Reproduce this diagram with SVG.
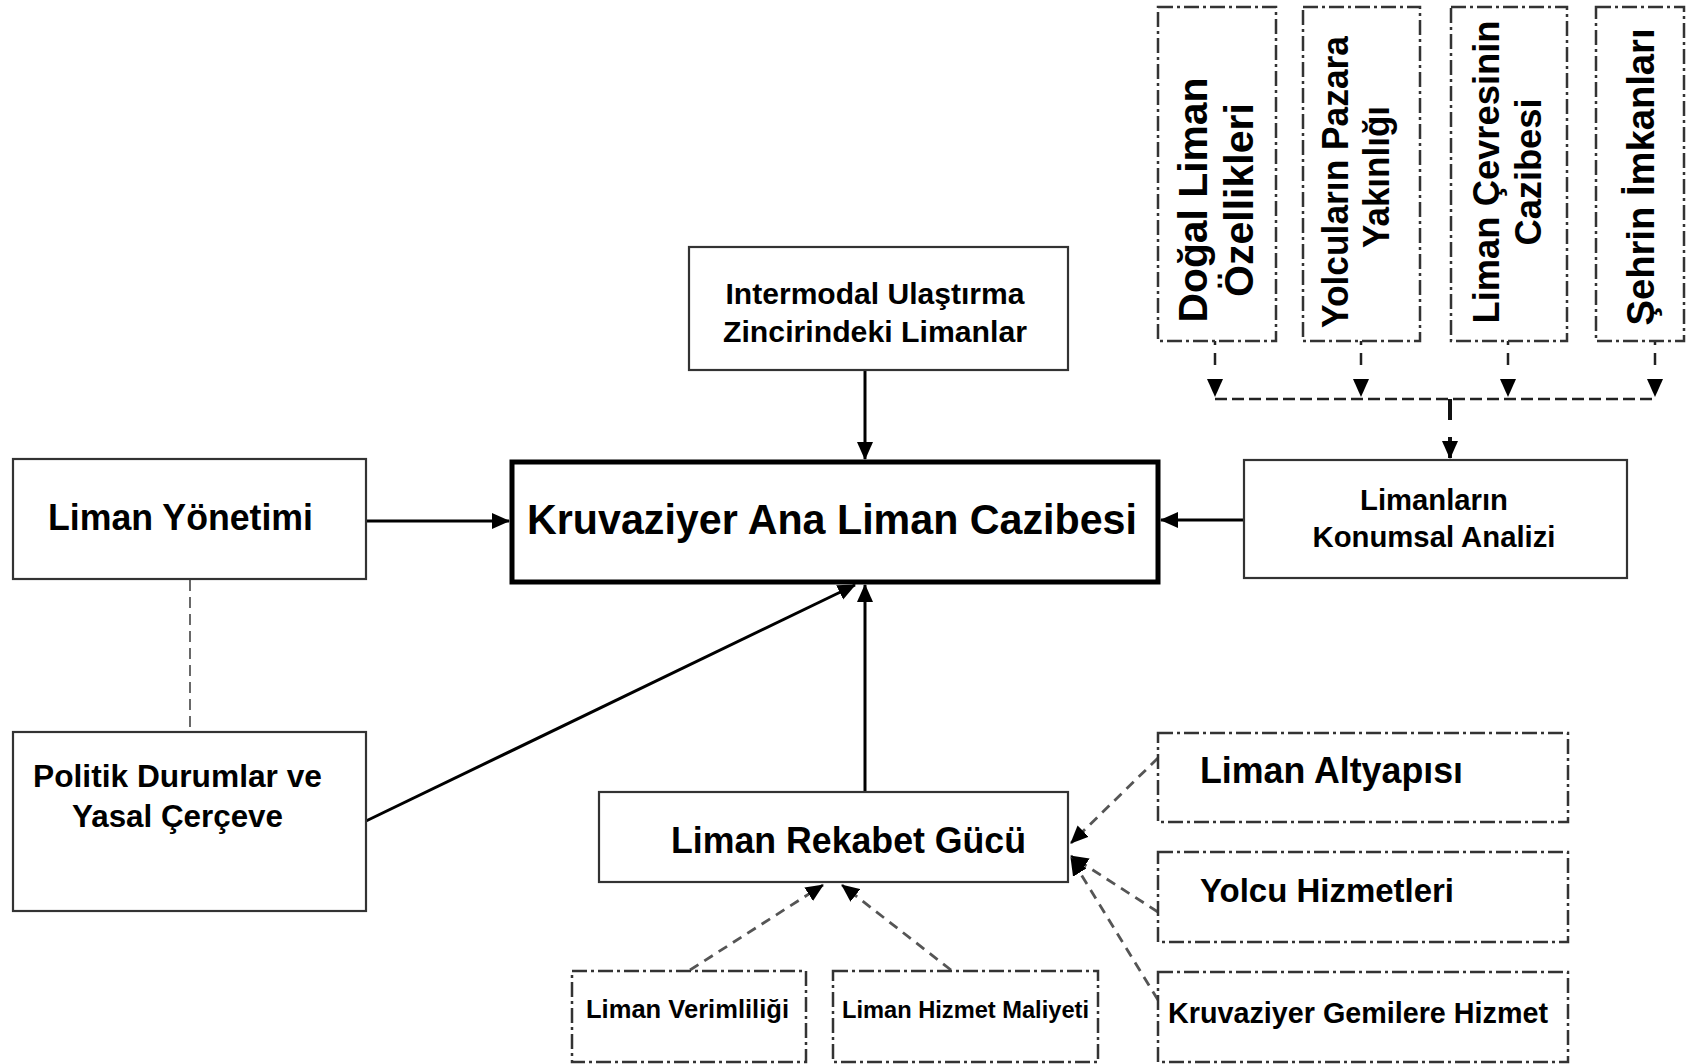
<svg xmlns="http://www.w3.org/2000/svg" width="1687" height="1064" viewBox="0 0 1687 1064">
<style>
.box{fill:#fff;stroke:#333;stroke-width:2.2}
.main{fill:#fff;stroke:#000;stroke-width:5}
.dd{fill:#fff;stroke:#333;stroke-width:2.5;stroke-dasharray:15 4 3 4}
.t{font-family:"Liberation Sans",Arial,Helvetica,sans-serif;font-weight:bold;fill:#000}
.sol{stroke:#000;stroke-width:3;fill:none}
.dsh{stroke:#555;stroke-width:2.8;fill:none;stroke-dasharray:10 7}
.top{stroke:#222;stroke-width:2.5;fill:none}
</style>
<defs>
<marker id="ah" viewBox="0 0 18 16" refX="17" refY="8" markerWidth="18" markerHeight="16" markerUnits="userSpaceOnUse" orient="auto">
<path d="M0,0 L18,8 L0,16 Z" fill="#000"/>
</marker>
<marker id="ahs" viewBox="0 0 18 16" refX="17" refY="8" markerWidth="18" markerHeight="17" markerUnits="userSpaceOnUse" orient="auto">
<path d="M0,0 L18,8 L0,16 Z" fill="#000"/>
</marker>
</defs>
<rect width="1687" height="1064" fill="#fff"/>

<g id="connectors">
<line class="sol" x1="865" y1="370" x2="865" y2="459" marker-end="url(#ah)"/>
<line class="sol" x1="366" y1="521" x2="509" y2="521" marker-end="url(#ah)"/>
<line class="sol" x1="1244" y1="520" x2="1161" y2="520" marker-end="url(#ah)"/>
<line class="sol" x1="865" y1="792" x2="865" y2="585" marker-end="url(#ah)"/>
<line class="sol" x1="366" y1="821" x2="855" y2="585" marker-end="url(#ahs)"/>
<line x1="190" y1="580" x2="190" y2="732" stroke="#444" stroke-width="1.6" stroke-dasharray="11 6"/>
<line class="dsh" x1="690" y1="970" x2="823" y2="885" marker-end="url(#ahs)"/>
<line class="dsh" x1="951" y1="970" x2="842" y2="885" marker-end="url(#ahs)"/>
<line class="dsh" x1="1158" y1="758" x2="1071" y2="843" marker-end="url(#ahs)"/>
<line class="dsh" x1="1158" y1="912" x2="1071" y2="856" marker-end="url(#ahs)"/>
<line class="dsh" x1="1158" y1="1000" x2="1071" y2="858" marker-end="url(#ahs)"/>
<g class="top" stroke-dasharray="4 8 12 100">
<line x1="1215" y1="341" x2="1215" y2="396" marker-end="url(#ah)"/>
<line x1="1361" y1="341" x2="1361" y2="396" marker-end="url(#ah)"/>
<line x1="1508" y1="341" x2="1508" y2="396" marker-end="url(#ah)"/>
<line x1="1655" y1="341" x2="1655" y2="396" marker-end="url(#ah)"/>
</g>
<line x1="1215" y1="399" x2="1655" y2="399" stroke="#222" stroke-width="2.5" stroke-dasharray="12 5"/>
<line x1="1450" y1="399" x2="1450" y2="458" stroke="#111" stroke-width="4" stroke-dasharray="21 17 100" marker-end="url(#ah)"/>
</g>

<g id="n-intermodal">
<rect class="box" x="689" y="247" width="379" height="123"/>
<text class="t" x="875" y="304" font-size="29" text-anchor="middle" textLength="299" lengthAdjust="spacingAndGlyphs">Intermodal Ulaştırma</text>
<text class="t" x="875" y="342" font-size="29" text-anchor="middle" textLength="304" lengthAdjust="spacingAndGlyphs">Zincirindeki Limanlar</text>
</g>

<g id="n-main">
<rect class="main" x="512" y="462" width="646" height="120"/>
<text class="t" x="832" y="534" font-size="43" text-anchor="middle" textLength="610" lengthAdjust="spacingAndGlyphs">Kruvaziyer Ana Liman Cazibesi</text>
</g>

<g id="n-yonetim">
<rect class="box" x="13" y="459" width="353" height="120"/>
<text class="t" x="48" y="530" font-size="36" textLength="265" lengthAdjust="spacingAndGlyphs">Liman Yönetimi</text>
</g>

<g id="n-politik">
<rect class="box" x="13" y="732" width="353" height="179"/>
<text class="t" x="33" y="787" font-size="31" textLength="289" lengthAdjust="spacingAndGlyphs">Politik Durumlar ve</text>
<text class="t" x="72" y="827" font-size="31" textLength="211" lengthAdjust="spacingAndGlyphs">Yasal Çerçeve</text>
</g>

<g id="n-konumsal">
<rect class="box" x="1244" y="460" width="383" height="118"/>
<text class="t" x="1434" y="510" font-size="29" text-anchor="middle" textLength="148" lengthAdjust="spacingAndGlyphs">Limanların</text>
<text class="t" x="1434" y="547" font-size="29" text-anchor="middle" textLength="243" lengthAdjust="spacingAndGlyphs">Konumsal Analizi</text>
</g>

<g id="n-rekabet">
<rect class="box" x="599" y="792" width="469" height="90"/>
<text class="t" x="671" y="853" font-size="36" textLength="355" lengthAdjust="spacingAndGlyphs">Liman Rekabet Gücü</text>
</g>

<g id="n-verim">
<rect class="dd" x="572" y="971" width="234" height="91"/>
<text class="t" x="586" y="1018" font-size="25" textLength="203" lengthAdjust="spacingAndGlyphs">Liman Verimliliği</text>
</g>

<g id="n-maliyet">
<rect class="dd" x="833" y="971" width="265" height="91"/>
<text class="t" x="842" y="1018" font-size="24" textLength="247" lengthAdjust="spacingAndGlyphs">Liman Hizmet Maliyeti</text>
</g>

<g id="n-altyapi">
<rect class="dd" x="1158" y="733" width="410" height="89"/>
<text class="t" x="1200" y="783" font-size="36" textLength="263" lengthAdjust="spacingAndGlyphs">Liman Altyapısı</text>
</g>

<g id="n-yolcu">
<rect class="dd" x="1158" y="852" width="410" height="90"/>
<text class="t" x="1200" y="902" font-size="34" textLength="254" lengthAdjust="spacingAndGlyphs">Yolcu Hizmetleri</text>
</g>

<g id="n-gemi">
<rect class="dd" x="1158" y="972" width="410" height="90"/>
<text class="t" x="1168" y="1023" font-size="29" textLength="380" lengthAdjust="spacingAndGlyphs">Kruvaziyer Gemilere Hizmet</text>
</g>

<g id="n-dogal">
<rect class="dd" x="1158" y="7" width="118" height="334"/>
<text class="t" transform="rotate(-90 1207 200)" x="1207" y="200" font-size="40" text-anchor="middle" textLength="245" lengthAdjust="spacingAndGlyphs">Doğal Liman</text>
<text class="t" transform="rotate(-90 1253 200)" x="1253" y="200" font-size="40" text-anchor="middle" textLength="194" lengthAdjust="spacingAndGlyphs">Özellikleri</text>
</g>

<g id="n-yolcular">
<rect class="dd" x="1303" y="7" width="117" height="334"/>
<text class="t" transform="rotate(-90 1348 182)" x="1348" y="182" font-size="36" text-anchor="middle" textLength="292" lengthAdjust="spacingAndGlyphs">Yolcuların Pazara</text>
<text class="t" transform="rotate(-90 1389 177)" x="1389" y="177" font-size="36" text-anchor="middle" textLength="142" lengthAdjust="spacingAndGlyphs">Yakınlığı</text>
</g>

<g id="n-cevre">
<rect class="dd" x="1451" y="7" width="116" height="334"/>
<text class="t" transform="rotate(-90 1499 172)" x="1499" y="172" font-size="37" text-anchor="middle" textLength="303" lengthAdjust="spacingAndGlyphs">Liman Çevresinin</text>
<text class="t" transform="rotate(-90 1541 172)" x="1541" y="172" font-size="37" text-anchor="middle" textLength="147" lengthAdjust="spacingAndGlyphs">Cazibesi</text>
</g>

<g id="n-sehir">
<rect class="dd" x="1596" y="7" width="88" height="334"/>
<text class="t" transform="rotate(-90 1654 177)" x="1654" y="177" font-size="38" text-anchor="middle" textLength="297" lengthAdjust="spacingAndGlyphs">Şehrin İmkanları</text>
</g>
</svg>
